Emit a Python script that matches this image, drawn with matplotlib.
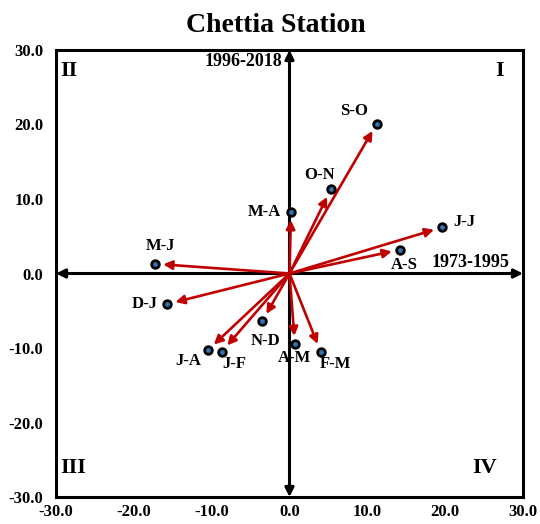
import matplotlib
matplotlib.use("Agg")
import matplotlib.pyplot as plt

labels = ["S-O", "O-N", "M-A", "J-J", "A-S", "M-J", "D-J", "N-D", "J-A", "J-F", "A-M", "F-M"]
x_vals = [11.2, 5.3, 0.2, 19.6, 14.2, -17.3, -15.7, -3.5, -10.5, -8.7, 0.7, 4.0]
y_vals = [20.1, 11.3, 8.3, 6.2, 3.2, 1.3, -4.1, -6.4, -10.3, -10.5, -9.5, -10.5]
# label offsets in points (dx, dy)
offsets = [(-16, 9), (-8, 10), (-19, 0), (16, 4), (3, -11), (4, 13), (-16, 0), (2, -14), (-14, -8), (9, -9), (0, -10), (11, -9)]
xticks = [-30, -20, -10, 0, 10, 20, 30]
yticks = [-30, -20, -10, 0, 10, 20, 30]

plt.rcParams['font.family'] = ['Liberation Serif', 'DejaVu Serif']
plt.rcParams['font.weight'] = 'bold'

fig = plt.figure(figsize=(5.4, 5.24), dpi=100)
ax = fig.add_axes([0.1037, 0.0515, 0.8648, 0.8531])
ax.set_xlim(-30, 30)
ax.set_ylim(-30, 30)

for s in ax.spines.values():
    s.set_linewidth(2.2)
    s.set_color('black')

ax.set_xticks(xticks)
ax.set_yticks(yticks)
ax.set_xticklabels([f"{t:.1f}" for t in xticks], fontsize=12, fontweight='bold')
ax.set_yticklabels([f"{t:.1f}" for t in yticks], fontsize=12, fontweight='bold')
ax.tick_params(axis='x', length=0, pad=5)
ax.tick_params(axis='y', length=0, pad=9)

# central axes with double arrows
akw = dict(arrowstyle='<|-|>', color='black', lw=2.2, mutation_scale=13, shrinkA=0, shrinkB=0)
ax.annotate('', xy=(30, 0), xytext=(-30, 0), arrowprops=akw)
ax.annotate('', xy=(0, 30), xytext=(0, -30), arrowprops=akw)

# vectors
for x, y in zip(x_vals, y_vals):
    ax.annotate('', xy=(x, y), xytext=(0, 0),
                arrowprops=dict(arrowstyle='-|>', color='#C00000', lw=1.9,
                                mutation_scale=13, shrinkA=0, shrinkB=6))

ax.scatter(x_vals, y_vals, s=30, c='#2E75B6', edgecolors='black', linewidths=2, zorder=5)

for lab, x, y, (dx, dy) in zip(labels, x_vals, y_vals, offsets):
    ax.annotate(lab, xy=(x, y), xytext=(dx, dy), textcoords='offset points',
                ha='center', va='center', fontsize=12, fontweight='bold')

ax.text(-0.9, 28.4, "1996-2018", ha='right', va='center', fontsize=13, fontweight='bold')
ax.text(23.3, 0.35, "1973-1995", ha='center', va='bottom', fontsize=13, fontweight='bold')

ax.text(-29.5, 27.2, "II", ha='left', va='center', fontsize=16, fontweight='bold')
ax.text(27.6, 27.2, "I", ha='right', va='center', fontsize=16, fontweight='bold')
ax.text(-29.5, -26.1, "III", ha='left', va='center', fontsize=16, fontweight='bold')
ax.text(26.7, -26.1, "IV", ha='right', va='center', fontsize=16, fontweight='bold')

fig.text(0.511, 0.951, "Chettia Station", ha='center', va='center', fontsize=20, fontweight='bold')

fig.savefig("out.png", dpi=100)
